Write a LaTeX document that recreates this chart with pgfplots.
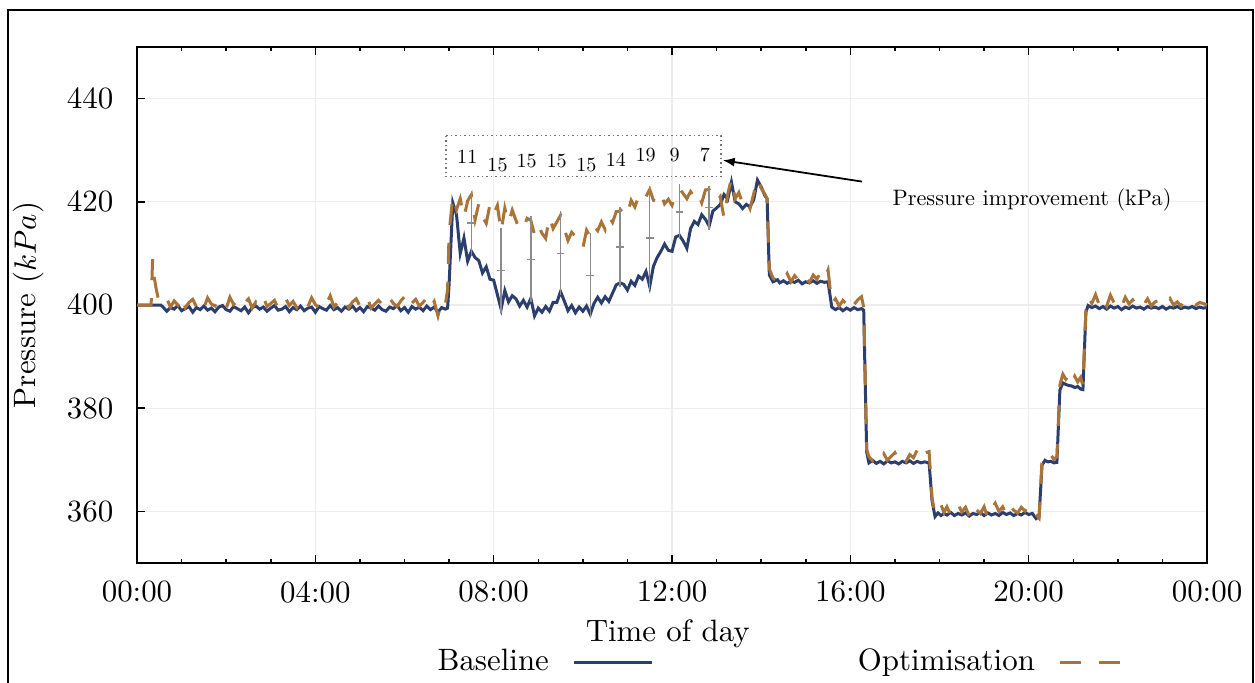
\RequirePackage{fix-cm}
\documentclass[border=0pt]{standalone}
\usepackage{pgfplots}
\pgfplotsset{compat=1.18}
\usepackage{pgfplotstable}
\usetikzlibrary{arrows.meta}
\definecolor{baseblue}{RGB}{43,63,110}
\definecolor{optorange}{RGB}{170,115,55}

\pgfplotstableread{
m b o
0 400.0 400.0
10 400.0 400.0
19 400.0 400.0
21 400.0 408.9
23 400.0 405.5
26 400.0 403.0
29 400.0 401.0
32 400.0 400.2
35 399.6 400.4
40 398.8 401.3
45 399.5 399.6
50 399.2 400.8
55 399.9 400.0
60 398.9 401.7
65 399.3 399.5
70 399.7 400.5
75 398.6 401.1
80 399.5 399.7
85 399.1 400.7
90 399.8 399.4
95 399.0 401.4
100 399.4 400.2
105 398.7 399.8
110 399.6 401.0
115 399.9 400.3
120 399.1 399.3
125 398.8 401.5
130 399.7 400.1
135 399.3 400.8
140 398.9 399.6
145 399.6 400.4
150 398.5 401.2
155 399.5 399.4
160 399.8 400.6
165 399.2 400.0
170 399.6 401.6
175 398.8 399.7
180 399.4 400.3
185 399.9 400.9
190 399.0 399.3
195 399.2 400.5
200 399.7 401.3
205 398.7 399.9
210 399.5 400.7
215 399.1 399.5
220 399.8 401.1
225 398.9 400.2
230 399.4 399.7
235 399.6 401.4
240 398.6 400.1
245 399.7 399.4
250 399.3 400.8
255 399.0 400.3
260 399.9 401.8
265 399.1 399.6
270 399.5 400.5
275 398.8 400.0
280 399.6 401.0
285 399.2 399.5
290 399.8 400.6
295 398.9 401.2
300 399.5 399.8
305 398.7 400.4
310 399.7 401.5
315 399.4 399.4
320 399.0 400.2
325 399.8 400.9
330 399.1 400.1
335 398.8 399.6
340 399.6 401.3
345 399.3 400.3
350 399.9 399.7
355 398.9 400.8
360 399.5 401.6
365 398.6 399.5
370 399.7 400.4
375 399.2 401.1
380 399.6 399.8
385 398.9 400.5
390 399.8 401.4
395 399.1 399.6
400 399.6 400.7
405 398.6 397.9
410 399.5 400.8
415 399.2 400.1
418 399.4 403.0
420 404.0 414.0
425 419.8 421.0
430 417.5 418.5
435 410.0 420.6
440 413.0 417.0
445 408.5 420.2
450 410.4 421.4
455 409.2 416.5
460 408.6 419.7
465 406.2 417.1
470 407.4 415.8
475 405.0 419.5
480 404.8 417.6
485 402.0 419.3
490 399.2 414.2
495 402.8 418.8
500 400.6 415.9
505 401.8 418.4
510 401.2 416.4
515 399.8 414.5
520 400.9 414.8
525 399.6 416.8
530 401.3 416.4
535 397.9 413.6
540 399.4 415.5
545 398.6 413.9
550 399.7 412.9
555 398.8 417.1
560 400.5 414.8
565 400.5 416.1
570 402.6 417.4
575 400.8 414.8
580 398.9 412.5
585 399.9 414.1
590 398.5 413.3
595 399.6 412.9
600 398.8 411.0
605 399.8 414.5
610 398.2 413.2
615 400.3 415.3
620 401.5 414.4
625 400.4 416.1
630 401.6 414.6
635 400.7 417.2
640 402.3 416.0
645 403.9 418.1
650 404.3 418.2
655 404.0 418.9
660 402.9 417.6
665 404.6 420.3
670 403.8 419.0
675 405.6 421.0
680 405.0 419.9
685 406.5 421.0
690 403.6 422.4
695 407.5 420.3
700 409.2 420.0
705 410.4 421.6
710 411.8 419.6
715 410.6 420.5
720 410.4 419.3
725 413.2 421.4
730 413.5 422.6
735 412.4 421.6
740 411.0 420.6
745 414.8 422.0
750 416.2 420.9
755 415.6 421.8
760 417.5 419.8
765 416.6 422.3
770 415.3 422.4
775 418.2 421.0
780 418.8 420.0
785 419.5 421.0
790 421.4 416.8
795 420.5 421.5
800 423.8 424.5
805 420.0 420.6
810 419.6 421.8
815 418.7 419.6
820 419.5 420.4
825 419.0 418.7
830 420.4 421.6
835 424.2 424.5
840 422.9 422.6
845 421.2 421.5
848 420.6 420.6
851 405.8 407.0
856 404.5 405.2
862 404.9 404.6
865 404.3 405.4
870 404.7 404.9
875 404.2 406.1
880 404.6 404.5
885 404.4 405.7
890 404.8 404.8
895 404.1 406.0
900 404.5 405.2
905 404.3 404.4
910 404.7 405.8
915 404.2 405.0
920 404.6 406.3
925 404.4 405.1
930 404.5 406.8
935 399.6 400.3
940 399.1 401.2
945 399.5 399.8
950 398.9 400.9
955 399.4 400.2
960 399.0 401.5
965 399.5 400.1
970 399.1 401.0
975 399.3 401.6
978 399.0 399.6
982 371.5 372.0
985 369.4 370.6
990 369.9 369.8
995 369.3 370.9
1000 369.7 370.1
1005 369.2 371.2
1010 369.8 369.9
1015 369.4 370.7
1020 369.6 371.4
1025 369.2 370.0
1030 369.7 370.8
1035 369.4 369.7
1040 369.8 371.0
1045 369.3 370.4
1050 369.7 371.9
1055 369.4 370.2
1060 369.6 371.3
1066 369.4 371.6
1070 362.0 362.5
1074 359.0 359.5
1078 359.7 360.4
1082 359.2 361.3
1086 359.6 359.8
1090 359.3 360.9
1095 359.8 359.3
1100 359.2 360.6
1105 359.6 361.4
1110 359.3 359.9
1115 359.7 360.8
1120 359.1 359.1
1125 359.6 361.2
1130 359.4 360.3
1135 359.8 359.6
1140 359.2 360.9
1145 359.7 358.7
1150 359.3 360.5
1155 359.6 361.6
1160 359.2 360.0
1165 359.8 360.9
1170 359.4 359.4
1175 359.7 361.1
1180 359.2 360.2
1185 359.6 359.7
1190 359.3 360.8
1195 359.8 360.1
1200 359.4 361.3
1205 359.6 359.8
1210 358.6 359.4
1214 359.0 358.7
1218 369.0 370.0
1222 369.9 370.8
1226 369.6 370.2
1230 369.7 370.9
1234 369.4 370.1
1238 369.5 370.6
1242 383.5 384.5
1246 384.9 386.6
1250 384.6 385.6
1254 384.4 386.5
1258 384.3 384.9
1262 384.0 386.2
1266 384.2 385.1
1270 383.7 386.0
1273 383.6 384.3
1277 398.6 399.0
1280 399.9 401.6
1285 399.5 400.3
1290 399.8 402.0
1295 399.3 400.0
1300 399.7 401.4
1305 399.2 399.8
1310 399.8 401.9
1315 399.4 400.4
1320 399.7 401.1
1325 399.1 399.7
1330 399.6 401.5
1335 399.3 400.2
1340 399.8 401.0
1345 399.4 399.9
1350 399.6 400.8
1355 399.2 400.1
1360 399.7 401.2
1365 399.4 399.8
1370 399.6 400.6
1375 399.3 400.9
1380 399.7 399.9
1385 399.2 400.7
1390 399.6 401.3
1395 399.4 400.0
1400 399.7 400.6
1405 399.3 399.8
1410 399.6 400.9
1415 399.4 400.2
1420 399.7 400.7
1425 399.3 400.0
1430 399.6 400.5
1435 399.4 400.3
1440 399.5 400.0
}\datatable

\pgfplotstableread{
m y e
450 415.9 5.5
490 406.7 7.5
530 408.85 7.55
570 410.0 7.4
610 405.7 7.5
650 411.25 6.95
690 413.0 9.4
730 418.05 4.55
770 418.85 3.55
}\bartable

\begin{document}
\fontsize{10.3}{12.4}\selectfont
\begin{tikzpicture}
\begin{axis}[
  at={(0pt,0pt)}, anchor=south west,
  scale only axis, width=356.67pt, height=172pt,
  xmin=0, xmax=1440, ymin=350, ymax=450,
  xtick={0,240,...,1440},
  xticklabels={00:00,04:00,08:00,12:00,16:00,20:00,00:00},
  minor x tick num=3,
  ytick={360,380,...,440},
  xtick pos=both, ytick pos=left,
  tick align=inside,
  major tick length=2.8pt, minor tick length=1.4pt,
  grid=major, major grid style={black!7, line width=0.4pt},
  axis line style={line width=0.6pt},
  every tick/.style={black, line width=0.5pt},
  xticklabel style={yshift=-2.5pt},
  yticklabel style={xshift=-4.3pt},
  xlabel={Time of day}, ylabel={Pressure $(kPa)$},
  xlabel style={at={(axis description cs:0.496,-0.1378)}, anchor=center},
  ylabel style={at={(axis description cs:-0.1018,0.5)}, anchor=center},
  clip=false,
  legend columns=2, legend plot pos=right,
  legend style={at={(axis description cs:0.2748,-0.1919)}, anchor=west, draw=none, fill=none, inner sep=0pt,
    /tikz/column 1/.style={column sep=6pt},
    /tikz/column 2/.style={column sep=66pt},
    /tikz/column 3/.style={column sep=6pt}},
  legend image code/.code={\draw[#1] (0pt,0pt) -- (26pt,0pt);},
]
\addplot[baseblue, line width=1pt] table[x=m,y=b]{\datatable};
\addlegendentry{Baseline}
\addplot[optorange, line width=1pt, dash pattern=on 7pt off 6pt] table[x=m,y=o]{\datatable};
\addlegendentry{Optimisation}
\addplot[forget plot, only marks, black!45, mark=-, mark size=1.3pt, mark options={line width=0.5pt},
  error bars/.cd, y dir=both, y explicit,
  error mark options={black!45, mark size=1.3pt, line width=0.5pt},
  error bar style={black!45, line width=0.5pt}]
  table[x=m, y=y, y error=e]{\bartable};

\draw[densely dotted, black!55, line width=0.5pt] (axis cs:416,432.83) rectangle (axis cs:786,424.89);
\begin{scope}[every node/.style={font=\fontsize{10}{12}\selectfont, scale=0.67, inner sep=0pt}]
\node at (axis cs:444.5,428.71) {11};
\node at (axis cs:485.2,427.08) {15};
\node at (axis cs:524.5,427.84) {15};
\node at (axis cs:564.8,427.99) {15};
\node at (axis cs:604.7,427.08) {15};
\node at (axis cs:644.4,428.18) {14};
\node at (axis cs:684.6,429.09) {19};
\node at (axis cs:723.6,429.04) {9};
\node at (axis cs:764.4,429.09) {7};
\end{scope}
\draw[-{Latex[length=4pt,width=3pt]}, line width=0.6pt] (axis cs:975.7,423.92) -- (axis cs:788.2,428.05);
\node[font=\fontsize{10}{12}\selectfont, scale=0.744] at (axis cs:1204.5,420.44) {Pressure improvement (kPa)};
\end{axis}
\draw[line width=0.67pt] (-43pt,-80pt) rectangle (372pt,184.33pt);
\pgfresetboundingbox
\useasboundingbox (-45.67pt,-40pt) rectangle (372.67pt,187.67pt);
\end{tikzpicture}
\end{document}
